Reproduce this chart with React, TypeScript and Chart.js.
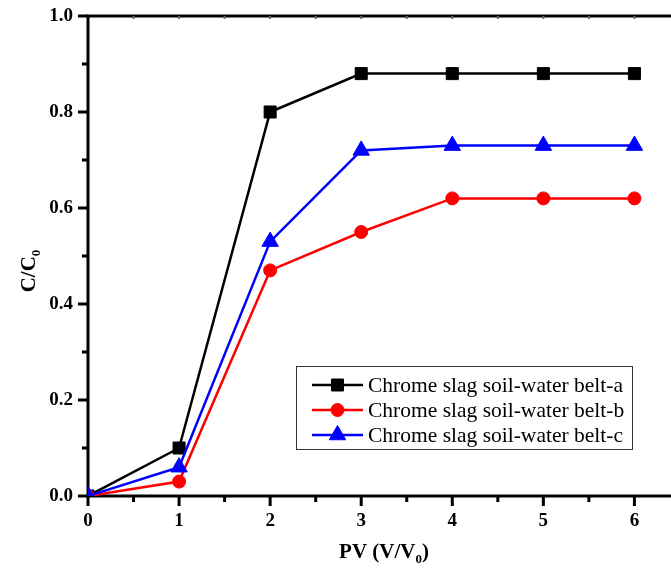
import React, { useEffect, useRef } from 'react';
import { Chart, registerables } from 'chart.js';

Chart.register(...registerables);

const pvValues = [0, 1, 2, 3, 4, 5, 6];
const seriesA = [0, 0.1, 0.8, 0.88, 0.88, 0.88, 0.88];
const seriesB = [0, 0.03, 0.47, 0.55, 0.62, 0.62, 0.62];
const seriesC = [0, 0.06, 0.53, 0.72, 0.73, 0.73, 0.73];
const seriesLabels = [
  'Chrome slag soil-water belt-a',
  'Chrome slag soil-water belt-b',
  'Chrome slag soil-water belt-c',
];
const seriesColors = ['#000000', '#ff0000', '#0000ff'];
const seriesShapes = ['rect', 'circle', 'triangle'];
const xTickLabels = ['0', '1', '2', '3', '4', '5', '6'];
const yTickValues = [0, 0.2, 0.4, 0.6, 0.8, 1.0];
const yTickLabels = ['0.0', '0.2', '0.4', '0.6', '0.8', '1.0'];
const xTitleMain = 'PV (V/V';
const xTitleSub = '0';
const xTitleEnd = ')';
const yTitleMain = 'C/C';
const yTitleSub = '0';

const SERIF = '"Liberation Serif", "Times New Roman", serif';

function drawMarker(ctx: CanvasRenderingContext2D, shape: string, x: number, y: number, color: string) {
  ctx.save();
  ctx.fillStyle = color;
  ctx.strokeStyle = color;
  ctx.lineWidth = 1;
  ctx.beginPath();
  if (shape === 'rect') {
    ctx.rect(x - 6, y - 6, 12, 12);
  } else if (shape === 'circle') {
    ctx.arc(x, y, 6.5, 0, Math.PI * 2);
  } else {
    const r = 9.5;
    ctx.moveTo(x, y - r);
    ctx.lineTo(x + r * Math.sin((2 * Math.PI) / 3), y - r * Math.cos((2 * Math.PI) / 3));
    ctx.lineTo(x + r * Math.sin((4 * Math.PI) / 3), y - r * Math.cos((4 * Math.PI) / 3));
    ctx.closePath();
  }
  ctx.fill();
  ctx.stroke();
  ctx.restore();
}

const framePlugin = {
  id: 'frameAxes',
  beforeDatasetsDraw(chart: any) {
    const { ctx, chartArea } = chart;
    const { left, right, top, bottom } = chartArea;
    const xs = chart.scales.x;
    const ys = chart.scales.y;
    ctx.save();
    ctx.strokeStyle = '#000';
    ctx.lineWidth = 3;
    ctx.lineCap = 'butt';
    ctx.beginPath();
    ctx.moveTo(left, bottom + 1.5);
    ctx.lineTo(left, top - 1.5);
    ctx.moveTo(left - 1.5, top);
    ctx.lineTo(right, top);
    ctx.moveTo(left - 1.5, bottom);
    ctx.lineTo(right, bottom);
    ctx.stroke();
    // x ticks (outward) every 0.5
    ctx.beginPath();
    for (let k = 0; k <= 14; k++) {
      const v = k / 2;
      const px = xs.getPixelForValue(v);
      const len = k % 2 === 0 ? 10 : 6;
      ctx.moveTo(px, bottom);
      ctx.lineTo(px, bottom + len);
    }
    // y ticks (outward) every 0.1
    for (let k = 0; k <= 10; k++) {
      const v = k / 10;
      const py = ys.getPixelForValue(v);
      const len = k % 2 === 0 ? 10 : 6;
      ctx.moveTo(left, py);
      ctx.lineTo(left - len, py);
    }
    ctx.stroke();
    // faint top ticks
    ctx.strokeStyle = '#666';
    ctx.lineWidth = 2;
    ctx.beginPath();
    for (let k = 1; k <= 14; k++) {
      const px = xs.getPixelForValue(k / 2);
      ctx.moveTo(px, top);
      ctx.lineTo(px, top + 3);
    }
    ctx.stroke();
    ctx.restore();
  },
  afterDraw(chart: any) {
    const { ctx } = chart;
    ctx.save();
    // legend box
    const bx = 296.5, by = 366.5, bw = 336, bh = 83;
    ctx.fillStyle = '#fff';
    ctx.fillRect(bx, by, bw, bh);
    ctx.strokeStyle = '#333';
    ctx.lineWidth = 1;
    ctx.strokeRect(bx, by, bw, bh);
    for (let i = 0; i < seriesLabels.length; i++) {
      const yy = 385 + 25 * i;
      ctx.strokeStyle = seriesColors[i];
      ctx.lineWidth = 2.5;
      ctx.beginPath();
      ctx.moveTo(312, yy);
      ctx.lineTo(363, yy);
      ctx.stroke();
      drawMarker(ctx, seriesShapes[i], 337.5, yy, seriesColors[i]);
      ctx.fillStyle = '#000';
      ctx.font = '21.5px ' + SERIF;
      ctx.textBaseline = 'middle';
      ctx.textAlign = 'left';
      ctx.fillText(seriesLabels[i], 368, yy + 1);
    }
    // x title
    const mainFont = 'bold 21px ' + SERIF;
    const subFont = 'bold 13px ' + SERIF;
    ctx.fillStyle = '#000';
    ctx.textBaseline = 'alphabetic';
    ctx.textAlign = 'left';
    ctx.font = mainFont;
    const w1 = ctx.measureText(xTitleMain).width;
    const w3 = ctx.measureText(xTitleEnd).width;
    ctx.font = subFont;
    const w2 = ctx.measureText(xTitleSub).width;
    const total = w1 + w2 + w3;
    const x0 = 384 - total / 2;
    const base = 558;
    ctx.font = mainFont;
    ctx.fillText(xTitleMain, x0, base);
    ctx.font = subFont;
    ctx.fillText(xTitleSub, x0 + w1, base + 5);
    ctx.font = mainFont;
    ctx.fillText(xTitleEnd, x0 + w1 + w2, base);
    // y title (rotated)
    ctx.save();
    ctx.translate(35, 271);
    ctx.rotate(-Math.PI / 2);
    ctx.font = mainFont;
    const m1 = ctx.measureText(yTitleMain).width;
    ctx.font = subFont;
    const m2 = ctx.measureText(yTitleSub).width;
    const yt = m1 + m2;
    ctx.font = mainFont;
    ctx.fillText(yTitleMain, -yt / 2, 0);
    ctx.font = subFont;
    ctx.fillText(yTitleSub, -yt / 2 + m1, 5);
    ctx.restore();
    ctx.restore();
  },
};

export default function App() {
  const canvasRef = useRef<HTMLCanvasElement | null>(null);

  useEffect(() => {
    if (!canvasRef.current) return;
    const makeSet = (i: number, values: number[], order: number) => ({
      label: seriesLabels[i],
      data: pvValues.map((x, j) => ({ x, y: values[j] })),
      borderColor: seriesColors[i],
      backgroundColor: seriesColors[i],
      pointBackgroundColor: seriesColors[i],
      pointBorderColor: seriesColors[i],
      borderWidth: 2.5,
      pointStyle: seriesShapes[i],
      pointRadius: i === 0 ? 8.5 : i === 1 ? 6.5 : 9.5,
      pointBorderWidth: 1,
      tension: 0,
      order,
    });
    const chart = new Chart(canvasRef.current, {
      type: 'line',
      data: {
        datasets: [makeSet(0, seriesA, 3), makeSet(1, seriesB, 2), makeSet(2, seriesC, 1)],
      },
      options: {
        responsive: false,
        animation: false,
        devicePixelRatio: 1,
        layout: { padding: { top: 16, left: 0, right: 0, bottom: 0 } },
        plugins: {
          legend: { display: false },
          tooltip: { enabled: false },
          title: { display: false },
        },
        scales: {
          x: {
            type: 'linear',
            min: 0,
            max: 7,
            afterBuildTicks: (scale: any) => {
              scale.ticks = pvValues.map((v) => ({ value: v }));
            },
            afterFit: (scale: any) => {
              scale.height = 73;
              scale.paddingLeft = 0;
              scale.paddingRight = 0;
            },
            ticks: {
              padding: 14,
              color: '#000',
              maxRotation: 0,
              autoSkip: false,
              font: { family: SERIF, size: 19, weight: 'bold' },
              callback: (_v: any, i: number) => xTickLabels[i],
            },
            grid: { display: true, drawOnChartArea: false, drawTicks: false },
            border: { display: false },
          },
          y: {
            type: 'linear',
            min: 0,
            max: 1,
            afterBuildTicks: (scale: any) => {
              scale.ticks = yTickValues.map((v) => ({ value: v }));
            },
            afterFit: (scale: any) => {
              scale.width = 88;
              scale.paddingTop = 0;
              scale.paddingBottom = 0;
            },
            ticks: {
              padding: 15,
              color: '#000',
              autoSkip: false,
              font: { family: SERIF, size: 19, weight: 'bold' },
              callback: (_v: any, i: number) => yTickLabels[i],
            },
            grid: { display: true, drawOnChartArea: false, drawTicks: false },
            border: { display: false },
          },
        },
      } as any,
      plugins: [framePlugin],
    });
    return () => chart.destroy();
  }, []);

  return (
    <div
      style={{
        position: 'fixed',
        left: 0,
        top: 0,
        width: 671,
        height: 569,
        overflow: 'hidden',
        background: '#fff',
      }}
    >
      <canvas ref={canvasRef} width={736} height={569} style={{ display: 'block' }} />
    </div>
  );
}
